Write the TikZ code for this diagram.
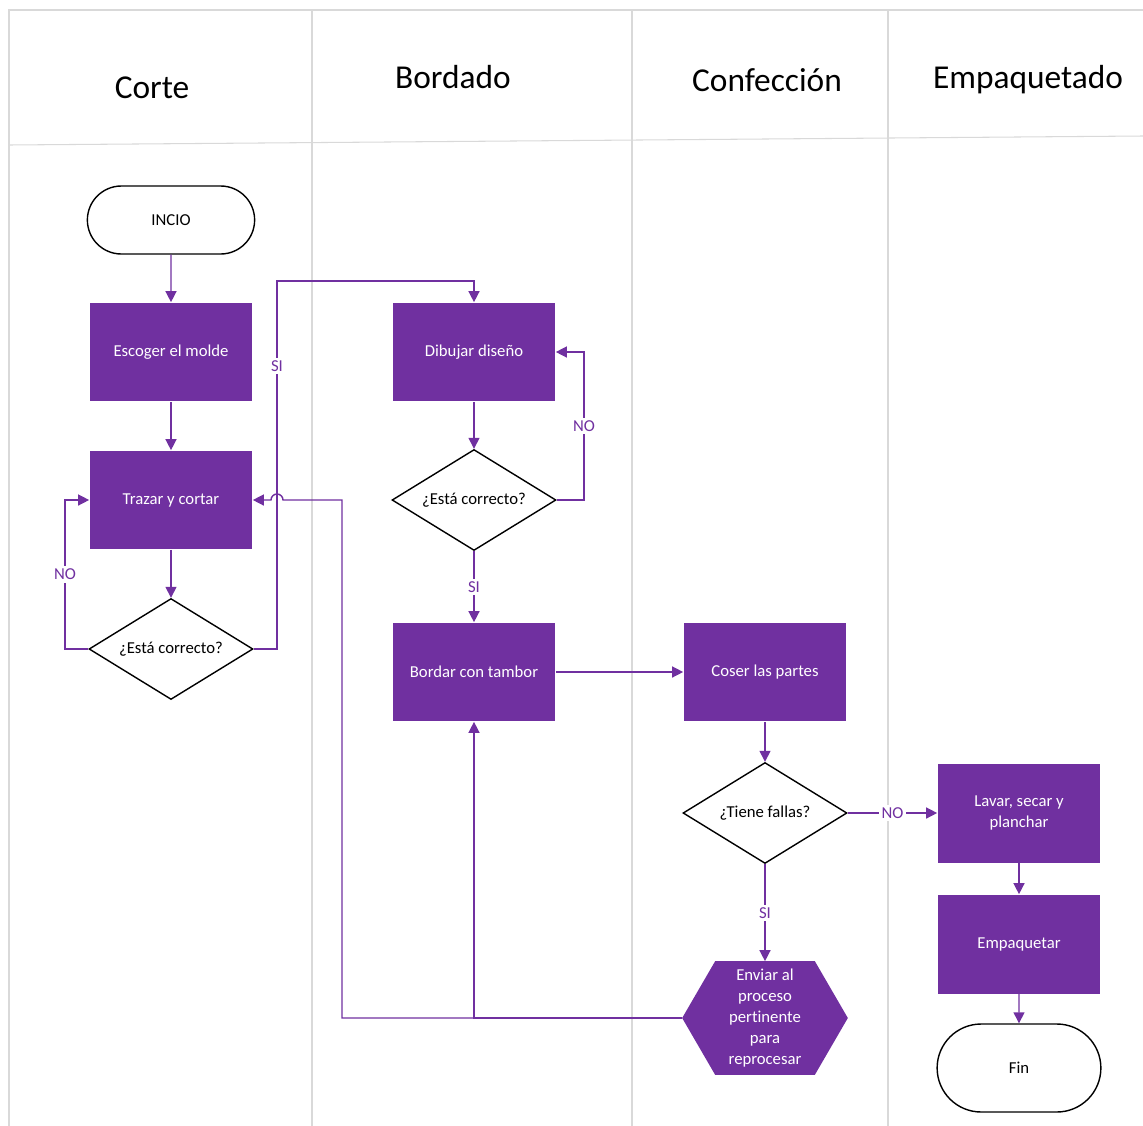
\documentclass[tikz,border=0pt]{standalone}
\usepackage{fontspec}
\setmainfont{Carlito}[Ligatures=NoCommon]
\usepackage{tikz}
\usetikzlibrary{positioning,shapes.geometric,shapes.misc,arrows.meta,backgrounds}
\definecolor{morado}{HTML}{7030A0}
\definecolor{rejilla}{HTML}{D9D9D9}

\begin{document}
\begin{tikzpicture}[
		x=0.02cm, y=-0.02cm
		,every node/.append style={font=\fontsize{9.5}{12}\selectfont}
		,proceso/.style={rectangle, fill=morado, text=white, align=center, minimum width=3.26cm, minimum height=1.98cm, inner sep=2pt}
		,decision/.style={diamond, draw=black, line width=0.8pt, aspect=1.6, inner sep=1pt, minimum width=3.28cm, minimum height=2.02cm, fill=white}
		,terminal/.style={rounded rectangle, draw=black, line width=0.8pt, fill=white}
		,flecha/.style={draw=morado, line width=0.8pt, -{Triangle[length=2.2mm, width=2.2mm]}}
		,etiqueta/.style={fill=white, text=morado, inner sep=1.5pt}
		,carril/.style={draw=rejilla, line width=0.6pt}
		,titulo/.style={font=\fontsize{19}{22}\selectfont, anchor=base}
	]
		\useasboundingbox (0,0) rectangle (1143,1126);

		% carriles
		\draw[carril] (1143,10) -- (9,10) -- (9,1126);
		\draw[carril] (9,145) -- (1143,136);
		\foreach \x in {312,632,888}
			\draw[carril] (\x,10) -- (\x,1126);

		\node[titulo] (tCorte) at (152,98) {Corte};
		\node[titulo] (tBordado) at (453,88) {Bordado};
		\node[titulo] (tConfeccion) at (767,91) {Confección};
		\node[titulo] (tEmpaque) at (1028,88) {Empaquetado};

		% corte
		\node[terminal, minimum width=3.58cm, minimum height=1.36cm] (inicio) at (171,220) {INCIO};
		\node[proceso] (molde) at (171,352) {Escoger el molde};
		\node[proceso] (trazar) at (171,500) {Trazar y cortar};
		\node[decision] (rev1) at (171,649) {¿Está correcto?};

		% bordado
		\node[proceso] (dibujo) at (474,352) {Dibujar diseño};
		\node[decision] (rev2) at (474,500) {¿Está correcto?};
		\node[proceso] (bordado) at (474,672) {Bordar con tambor};

		% confeccion
		\node[proceso] (costura) at (765,672) {Coser las partes};
		\node[decision] (rev3) at (765,813) {¿Tiene fallas?};
		\node[text=white, align=center, minimum width=3.3cm, minimum height=2.26cm, inner sep=0pt] (envio) at (765,1018)
			{Enviar al\\proceso\\pertinente\\para\\reprocesar};
		\begin{pgfonlayer}{background}
			\fill[morado] (envio.west) -- ([xshift=0.66cm]envio.north west) -- ([xshift=-0.66cm]envio.north east)
				-- (envio.east) -- ([xshift=-0.66cm]envio.south east) -- ([xshift=0.66cm]envio.south west) -- cycle;
		\end{pgfonlayer}

		% empaquetado
		\node[proceso] (lavado) at (1019,813) {Lavar, secar y\\planchar};
		\node[proceso] (empaque) at (1019,944) {Empaquetar};
		\node[terminal, minimum width=3.51cm, minimum height=1.76cm] (fin) at (1019,1068) {Fin};

		% conectores
		\draw[flecha] (inicio) -- (molde);
		\draw[flecha] (molde) -- (trazar);
		\draw[flecha] (trazar) -- (rev1);
		\draw[flecha] (rev1.west) -- (65,649) -- node[etiqueta] {NO} (65,500) -- (trazar.west);
		\draw[flecha] (rev1.east) -- (277,649) -- node[etiqueta, pos=0.77] {SI} (277,281) -| (dibujo.north);
		\draw[flecha] (dibujo) -- (rev2);
		\draw[flecha] (rev2.east) -- (584,500) -- node[etiqueta] {NO} (584,352) -- (dibujo.east);
		\draw[flecha] (rev2) -- node[etiqueta] {SI} (bordado);
		\draw[flecha] (bordado) -- (costura);
		\draw[flecha] (costura) -- (rev3);
		\draw[flecha] (rev3) -- node[etiqueta] {NO} (lavado);
		\draw[flecha] (rev3) -- node[etiqueta] {SI} (envio);
		\draw[flecha] (envio.west) -| (bordado.south);
		\draw[flecha] (envio.west) -| (342,500) -- (283,500) arc (0:-180:6) -- (trazar.east);
		\draw[flecha] (lavado) -- (empaque);
		\draw[flecha] (empaque) -- (fin);
	\end{tikzpicture}
\end{document}
